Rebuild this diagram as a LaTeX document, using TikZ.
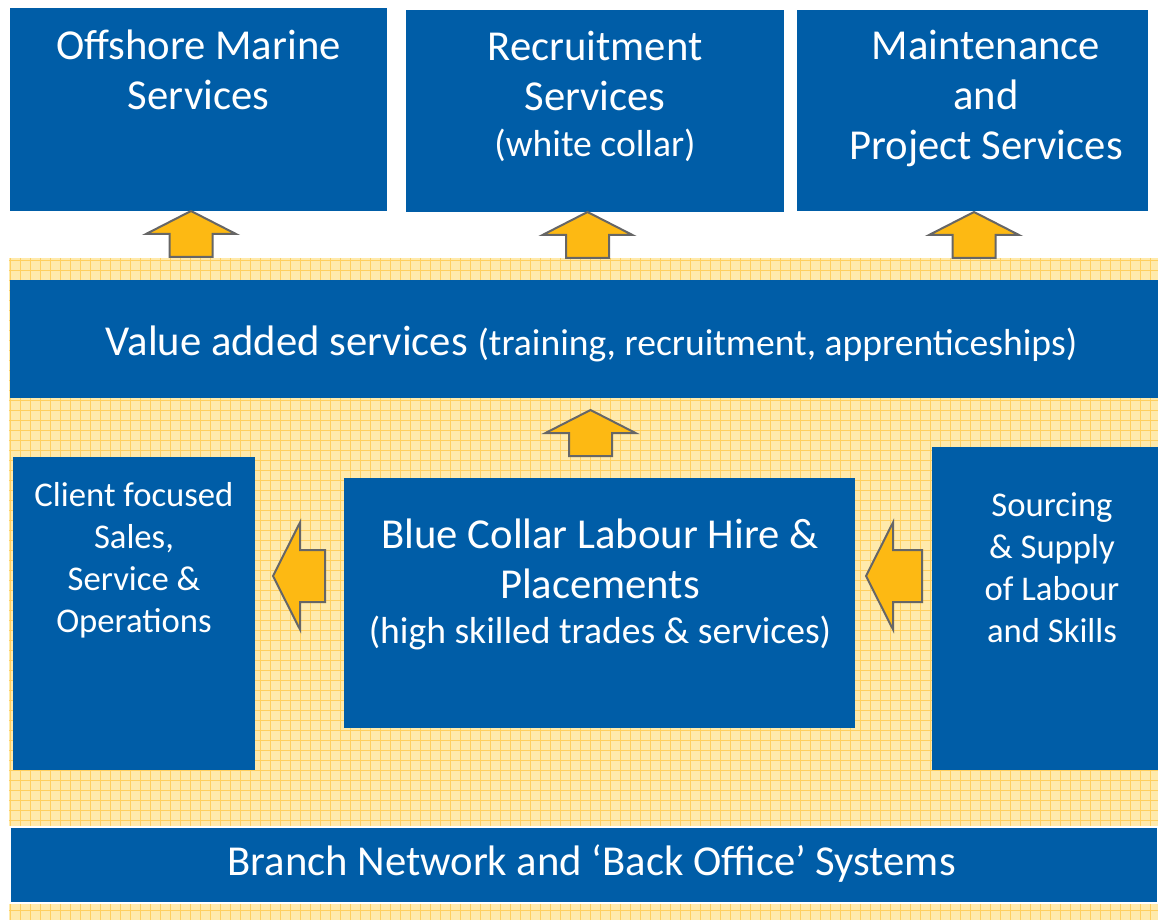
\documentclass[tikz,border=0pt]{standalone}
\usepackage{fontspec}
\setmainfont{Carlito}
\usetikzlibrary{fit}
\definecolor{boxblue}{RGB}{0,93,167}
\definecolor{gold}{RGB}{253,185,19}
\definecolor{edgegray}{RGB}{102,102,102}
\definecolor{paper}{RGB}{255,234,172}
\definecolor{gridline}{RGB}{255,207,95}
\tikzset{
  box/.style={fill=boxblue, draw=none, inner sep=0pt},
  lbl/.style={text=white, align=center, inner sep=0pt, anchor=base},
  big/.style={font=\fontsize{32}{37.6}\selectfont},
  paren/.style={font=\fontsize{28.2}{33}\selectfont},
  smalltext/.style={font=\fontsize{26}{31.5}\selectfont},
  blockarrow/.style={fill=gold, draw=edgegray, line width=1.5pt, line join=miter},
  uparrow/.pic={\draw[blockarrow] (0,0) -- (45,23) -- (21.5,23) -- (21.5,46)
      -- (-21.5,46) -- (-21.5,23) -- (-45,23) -- cycle;},
  leftarrow/.pic={\draw[blockarrow] (0,0) -- (27,-53.5) -- (27,-26) -- (#1,-26)
      -- (#1,26) -- (27,26) -- (27,53.5) -- cycle;},
}
\begin{document}
\begin{tikzpicture}[x=0.75pt, y=-0.75pt]
  \useasboundingbox (0,0) rectangle (1158,920);
  \fill[white] (0,0) rectangle (1158,920);

  % hatched backdrop behind the lower layers
  \fill[paper] (9,258) rectangle (1158,920);
  \begin{scope}
    \clip (9,258) rectangle (1158,920);
    \draw[gridline, line width=0.55pt, step=7.5pt] (9,258) grid (1158,920);
  \end{scope}

  % top row of service lines
  \node[box, fit={(10,8) (387,211)}] (offshore) {};
  \node[box, fit={(406,10) (784,212)}] (recruit) {};
  \node[box, fit={(797,10) (1148,211)}] (maint) {};

  % middle layers
  \node[box, fit={(10,280) (1158,398)}] (value) {};
  \node[box, fit={(13,457) (255,770)}] (client) {};
  \node[box, fit={(344,478) (855,728)}] (blue) {};
  \node[box, fit={(932,447) (1158,770)}] (source) {};
  \node[box, fit={(10,827) (1158,903)}, draw=white, line width=1pt] (branch) {};

  % labels (anchored at the baseline of their last line)
  \node[lbl, big] (tOff) at (198.5,110) {Offshore Marine\\Services};
  \node[lbl, big] (tRec) at (595,111) {Recruitment\\Services};
  \node[lbl, paren] (tRec2) at (595,157) {(white collar)};
  \node[lbl, big] (tMai) at (986,160) {Maintenance\\and\\Project Services};
  \node[lbl, big] (tVal) at (591.5,355.5)
    {Value added services {\fontsize{28.2}{33}\selectfont(training, recruitment, apprenticeships)}};
  \node[lbl, smalltext] (tCli) at (134,632) {Client focused\\Sales,\\Service \&\\Operations};
  \node[lbl, big] (tBlu) at (600,598.5) {Blue Collar Labour Hire \&\\Placements};
  \node[lbl, paren] (tBlu2) at (600,643) {(high skilled trades \& services)};
  \node[lbl, smalltext] (tSrc) at (1052,642) {Sourcing\\\& Supply\\of Labour\\and Skills};
  \node[lbl, big] (tBra) at (591.5,875.5) {Branch Network and ‘Back Office’ Systems};

  % block arrows
  \pic at (191,211) {uparrow};
  \pic at (587.5,212) {uparrow};
  \pic at (974,212) {uparrow};
  \pic at (590.5,410) {uparrow};
  \pic at (273,576) {leftarrow=52};
  \pic at (866,576) {leftarrow=56};
\end{tikzpicture}
\end{document}
